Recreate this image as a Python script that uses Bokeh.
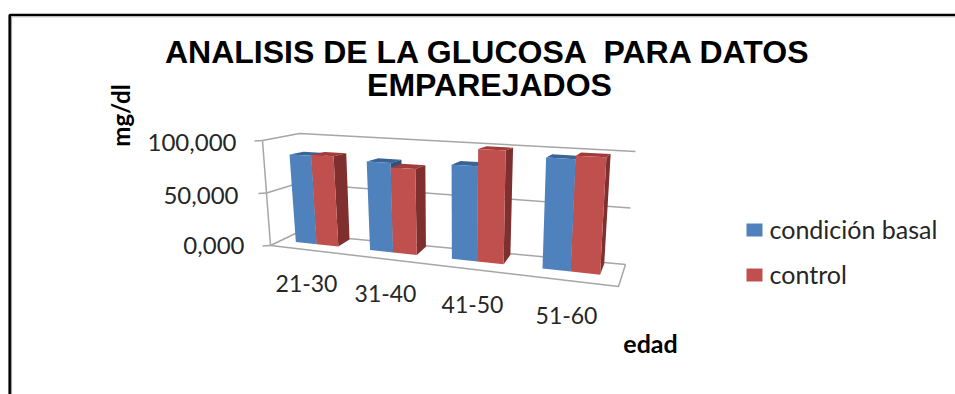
from bokeh.core.properties import value
from bokeh.embed import file_html
from bokeh.plotting import figure
from bokeh.resources import INLINE

# Chart content
title_lines = ["ANALISIS DE LA GLUCOSA \u00a0PARA DATOS", "EMPAREJADOS"]
categories = ["21-30", "31-40", "41-50", "51-60"]
series_names = ["condición basal", "control"]
basal = [83, 81, 83, 94]
control = [84, 77, 98, 97]
tick_values = [0, 50, 100]
tick_labels = ["0,000", "50,000", "100,000"]
y_title = "mg/dl"
x_title = "edad"

FACE = ["#4F81BD", "#C0504D"]
SIDE = ["#2F5180", "#7F302E"]
TOP = ["#3A6496", "#A03C39"]
GRID = "#A6A6A6"
INK = "#262626"

# Projection of the 3D box (category, depth, value) onto the page
FLB, BLB, BRB, FRB = (270, 245), (295, 233), (625, 264), (618, 286)
WALL_TOP = ((262, 140), (299, 133), (635, 151), (624, 168))
BAR_TOP = ((260, 137), (289, 133), (632.5, 151), (625.5, 157))
K = 1.225
BAR_SPAN = 0.146
V0, V1 = 0.43, 0.94


def lerp(a, b, t):
    return (a[0] + (b[0] - a[0]) * t, a[1] + (b[1] - a[1]) * t)


def project(s, v, w, top=WALL_TOP):
    t = s / (s + K * (1 - s))
    h = w / 100
    flt, blt, brt, frt = top
    front = lerp(lerp(FLB, FRB, t), lerp(flt, frt, t), h)
    back = lerp(lerp(BLB, BRB, t), lerp(blt, brt, t), h)
    return lerp(front, back, v)


def bar_point(s, v, w):
    return project(s, v, w, BAR_TOP)


def poly(points):
    return [q[0] for q in points], [q[1] for q in points]


p = figure(width=955, height=394, x_range=(0, 955), y_range=(394, 0),
           output_backend="svg", toolbar_location=None, min_border=0,
           outline_line_color=None, background_fill_color="white",
           border_fill_color="white")
p.axis.visible = False
p.grid.visible = False

# Surrounding frame
p.line([9.2, 9.2, 955], [394, 14.5, 14.5], line_color="black", line_width=2.6)
p.line([11, 11], [394, 16], line_color="#A0A0A0", line_width=1.2)
p.line([11, 955], [16.3, 16.3], line_color="#B8B8B8", line_width=1)

# Walls, floor and gridlines
for w in tick_values:
    a, b, c = project(0, 0, w), project(0, 1, w), project(1, 1, w)
    p.line(*poly([a, b, c]), line_color=GRID, line_width=1.5)
    p.line(*poly([(a[0] - 8, a[1] + 0.5), a]), line_color=GRID, line_width=1.5)
p.line(*poly([project(0, 0, 0), project(0, 0, 100)]), line_color=GRID, line_width=1.5)
p.line(*poly([project(0, 0, 0), project(1, 0, 0), project(1, 1, 0)]),
       line_color=GRID, line_width=1.5)

# Bars: each pair drawn back to front, left series first
for i in range(len(categories)):
    centre = (i + 0.5) / len(categories)
    for j, values in enumerate((basal, control)):
        s0 = centre - BAR_SPAN / 2 + j * BAR_SPAN / 2
        s1 = s0 + BAR_SPAN / 2
        w = values[i]
        p.patch(*poly([bar_point(s0, V0, w), bar_point(s1, V0, w),
                       bar_point(s1, V1, w), bar_point(s0, V1, w)]),
                fill_color=TOP[j], line_color=None)
        p.patch(*poly([bar_point(s1, V0, 0), bar_point(s1, V1, 0),
                       bar_point(s1, V1, w), bar_point(s1, V0, w)]),
                fill_color=SIDE[j], line_color=None)
        p.patch(*poly([bar_point(s0, V0, 0), bar_point(s1, V0, 0),
                       bar_point(s1, V0, w), bar_point(s0, V0, w)]),
                fill_color=FACE[j], line_color=None)


def label(x, y, text, size, font="Lato", style="normal", align="left", color=INK, angle=0):
    p.text([x], [y], text=[text], text_font=value(font), text_font_size=f"{size}px",
           text_font_style=style, text_align=align, text_baseline="middle",
           text_color=color, angle=angle)


# Title
label(488, 51.5, title_lines[0], 32, "Liberation Sans", "bold", "center", "black")
label(489, 84.5, title_lines[1], 32, "Liberation Sans", "bold", "center", "black")

# Value axis labels
for w, text, x, y in zip(tick_values, tick_labels, (244, 238, 236), (245, 195, 142)):
    label(x, y, text, 24, align="right")
label(120, 115, y_title, 24, style="bold", align="center", color="black", angle=1.5708)

# Category labels
for text, x, y in zip(categories, (306, 385, 472, 566), (283, 293, 304, 315)):
    label(x, y, text, 23, align="center")
label(650, 342, x_title, 25, style="bold", align="center", color="black")

# Legend
for name, colour, y, text_y in zip(series_names, FACE, (230, 275), (228, 273)):
    p.quad(left=[746], right=[762], top=[y - 7], bottom=[y + 6], fill_color=colour, line_color=None)
    label(769, text_y, name, 25)

open("out.html", "w").write(file_html(p, INLINE))
